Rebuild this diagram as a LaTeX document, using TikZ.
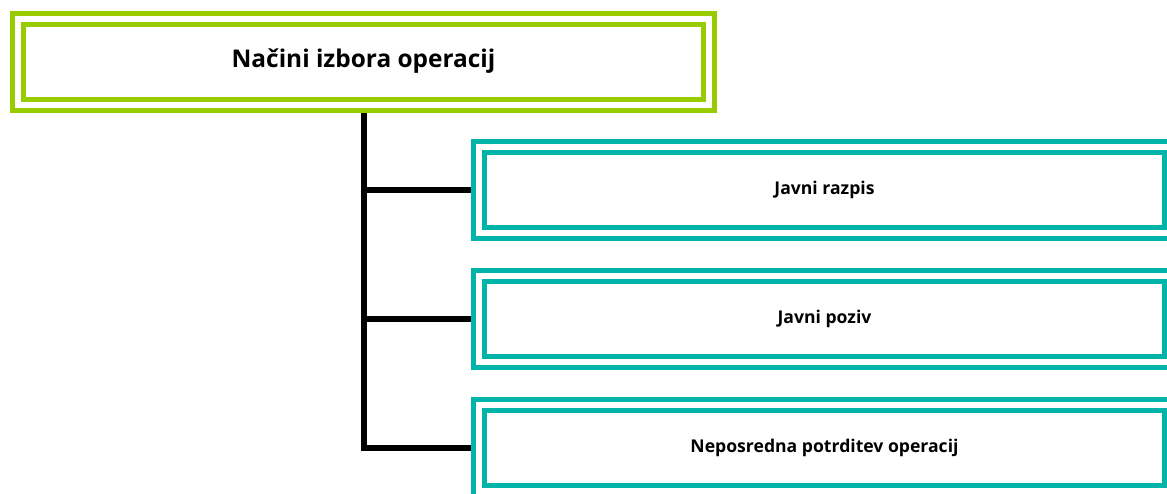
\documentclass[tikz,border=0pt]{standalone}
\usepackage{fontspec}
\setmainfont{Open Sans}
\usetikzlibrary{backgrounds}
\definecolor{lime}{RGB}{153,204,0}
\definecolor{teal}{RGB}{0,180,170}
\tikzstyle{box}=[draw, rectangle, line width=3.75pt, double=white, double distance=4.5pt,
  minimum width=518pt, minimum height=64.5pt, inner sep=0pt, font=\bfseries]
\tikzstyle{head}=[box, draw=lime, font=\bfseries\fontsize{18.3}{22}\selectfont]
\tikzstyle{item}=[box, draw=teal, font=\bfseries\fontsize{13.2}{16}\selectfont]
\tikzstyle{link}=[line width=4.5pt, black]

\begin{document}
\begin{tikzpicture}[x=0.75pt, y=-0.75pt]
    \useasboundingbox (0,0) rectangle (1167,493);
    \clip (0,0) rectangle (1167,493);
    \node[head] (ways) at (363.5, 61.5) {Načini izbora operacij};
    \node[item] (razpis) at (824.5, 190) {Javni razpis};
    \node[item] (poziv) at (824.5, 319) {Javni poziv};
    \node[item] (direct) at (824.5, 448) {Neposredna potrditev operacij};
    \begin{scope}[on background layer]
      \draw[link] (ways.south) |- (direct.west);
      \draw[link] (ways.south |- razpis.west) -- (razpis.west);
      \draw[link] (ways.south |- poziv.west) -- (poziv.west);
    \end{scope}
  \end{tikzpicture}
\end{document}
